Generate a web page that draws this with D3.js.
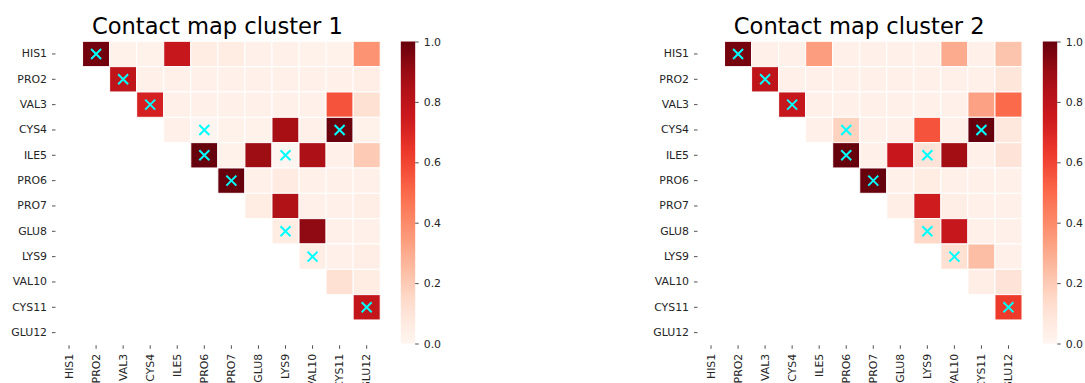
<!DOCTYPE html>
<html>
<head>
<meta charset="utf-8">
<script src="https://cdn.jsdelivr.net/npm/d3@7"></script>
<style>
  html, body { margin: 0; padding: 0; background: #fff; }
  svg { display: block; font-family: "DejaVu Sans", sans-serif; }
</style>
</head>
<body>
<svg id="chart" width="1085" height="383"></svg>
<script>
// ---- data ----
const residues = ["HIS1","PRO2","VAL3","CYS4","ILE5","PRO6","PRO7","GLU8","LYS9","VAL10","CYS11","GLU12"];
const titles = ["Contact map cluster 1", "Contact map cluster 2"];
// upper triangle rows: row i lists values for columns i+1 .. 11
const cluster1Values = [
  [0.98, 0.02, 0.02, 0.77, 0.05, 0.05, 0.03, 0.03, 0.02, 0.02, 0.37],
  [0.79, 0.03, 0.03, 0.03, 0.03, 0.03, 0.03, 0.03, 0.03, 0.04],
  [0.72, 0.03, 0.03, 0.03, 0.03, 0.03, 0.03, 0.56, 0.12],
  [0.03, 0.00, 0.02, 0.02, 0.87, 0.03, 0.99, 0.02],
  [1.00, 0.02, 0.89, 0.00, 0.85, 0.03, 0.20],
  [1.00, 0.03, 0.06, 0.03, 0.03, 0.03],
  [0.05, 0.84, 0.03, 0.03, 0.04],
  [0.05, 0.92, 0.03, 0.03],
  [0.04, 0.03, 0.04],
  [0.12, 0.05],
  [0.78],
  []
];
const cluster2Values = [
  [0.97, 0.03, 0.03, 0.34, 0.03, 0.03, 0.03, 0.03, 0.30, 0.03, 0.22],
  [0.79, 0.03, 0.03, 0.03, 0.03, 0.03, 0.03, 0.03, 0.03, 0.09],
  [0.77, 0.03, 0.03, 0.03, 0.03, 0.03, 0.03, 0.33, 0.50],
  [0.03, 0.17, 0.03, 0.03, 0.56, 0.03, 1.00, 0.08],
  [1.00, 0.03, 0.76, 0.10, 0.88, 0.03, 0.10],
  [1.00, 0.03, 0.05, 0.03, 0.03, 0.03],
  [0.04, 0.74, 0.04, 0.03, 0.03],
  [0.15, 0.77, 0.03, 0.03],
  [0.12, 0.24, 0.03],
  [0.04, 0.10],
  [0.63],
  []
];
// cross markers [row, col]
const crosses = [[0,1],[1,2],[2,3],[3,5],[3,10],[4,5],[4,8],[5,6],[7,8],[8,9],[10,11]];
const cbarTicks = [0, 0.2, 0.4, 0.6, 0.8, 1.0];
// matplotlib "Reds" colormap anchors
const redsStops = ["#fff5f0","#fee0d2","#fcbba1","#fc9272","#fb6a4a","#ef3b2c","#cb181d","#a50f15","#67000d"];

// ---- drawing ----
(function () {
const svg = d3.select("#chart");
const color = d3.scaleLinear()
  .domain(redsStops.map((_, i) => i / (redsStops.length - 1)))
  .range(redsStops)
  .interpolate(d3.interpolateRgb)
  .clamp(true);

const defs = svg.append("defs");
const grad = defs.append("linearGradient").attr("id", "redsGrad")
  .attr("x1", 0).attr("y1", 1).attr("x2", 0).attr("y2", 0);
d3.range(0, 1.0001, 0.05).forEach(t => {
  grad.append("stop").attr("offset", t).attr("stop-color", color(t));
});

const textColor = "#262626";
const panels = [
  { values: cluster1Values, left: 55.5, right: 380.2, cbX: 400.8, title: titles[0] },
  { values: cluster2Values, left: 697.5, right: 1022.0, cbX: 1042.8, title: titles[1] }
];
const gridTop = 41.3, gridBottom = 345.3;
const cbTop = 41.5, cbBottom = 343.5, cbW = 14.4;

function cellsFrom(values) {
  const out = [];
  values.forEach((row, i) => row.forEach((v, k) => out.push({ r: i, c: i + 1 + k, v })));
  return out;
}

panels.forEach(p => {
  const g = svg.append("g");
  const x = d3.scaleBand().domain(residues).range([p.left, p.right]).padding(0);
  const y = d3.scaleBand().domain(residues).range([gridTop, gridBottom]).padding(0);

  g.selectAll("rect.cell").data(cellsFrom(p.values)).join("rect")
    .attr("class", "cell")
    .attr("x", d => x(residues[d.c]))
    .attr("y", d => y(residues[d.r]))
    .attr("width", x.bandwidth())
    .attr("height", y.bandwidth())
    .attr("fill", d => color(d.v))
    .attr("stroke", "#fff")
    .attr("stroke-width", 1);

  const s = 5;
  g.selectAll("path.cross").data(crosses).join("path")
    .attr("class", "cross")
    .attr("d", d => {
      const cx = x(residues[d[1]]) + x.bandwidth() / 2;
      const cy = y(residues[d[0]]) + y.bandwidth() / 2;
      return `M${cx - s},${cy - s}L${cx + s},${cy + s}M${cx - s},${cy + s}L${cx + s},${cy - s}`;
    })
    .attr("stroke", "#00ffff")
    .attr("stroke-width", 2)
    .attr("fill", "none");

  // y axis
  const ya = g.append("g").attr("transform", `translate(${p.left},0)`)
    .call(d3.axisLeft(y).tickSize(3.5).tickPadding(5));
  ya.select(".domain").remove();
  ya.selectAll("line").attr("stroke", textColor).attr("stroke-width", 0.8);
  ya.selectAll("text").attr("fill", textColor).style("font-size", "10.9px")
    .style("font-family", "DejaVu Sans, sans-serif");

  // x axis
  const xa = g.append("g").attr("transform", `translate(0,${gridBottom})`)
    .call(d3.axisBottom(x).tickSize(3.5).tickPadding(5));
  xa.select(".domain").remove();
  xa.selectAll("line").attr("stroke", textColor).attr("stroke-width", 0.8);
  xa.selectAll("text").attr("fill", textColor).style("font-size", "10.9px")
    .style("font-family", "DejaVu Sans, sans-serif")
    .attr("transform", "rotate(-90)")
    .attr("text-anchor", "end")
    .attr("x", -8.5).attr("y", 0).attr("dy", "0.35em");

  // title
  g.append("text")
    .attr("x", (p.left + p.right) / 2 - 0.5).attr("y", 34)
    .attr("text-anchor", "middle")
    .attr("fill", "#000")
    .style("font-size", "22.6px")
    .text(p.title);

  // colorbar
  g.append("rect").attr("x", p.cbX).attr("y", cbTop).attr("width", cbW)
    .attr("height", cbBottom - cbTop).attr("fill", "url(#redsGrad)");
  const cs = d3.scaleLinear().domain([0, 1]).range([cbBottom, cbTop]);
  const ca = g.append("g").attr("transform", `translate(${p.cbX + cbW},0)`)
    .call(d3.axisRight(cs).tickValues(cbarTicks).tickFormat(d3.format(".1f")).tickSize(3.5).tickPadding(5));
  ca.select(".domain").remove();
  ca.selectAll("line").attr("stroke", textColor).attr("stroke-width", 0.8);
  ca.selectAll("text").attr("fill", textColor).style("font-size", "10.9px")
    .style("font-family", "DejaVu Sans, sans-serif");
});
})();
</script>
</body>
</html>
